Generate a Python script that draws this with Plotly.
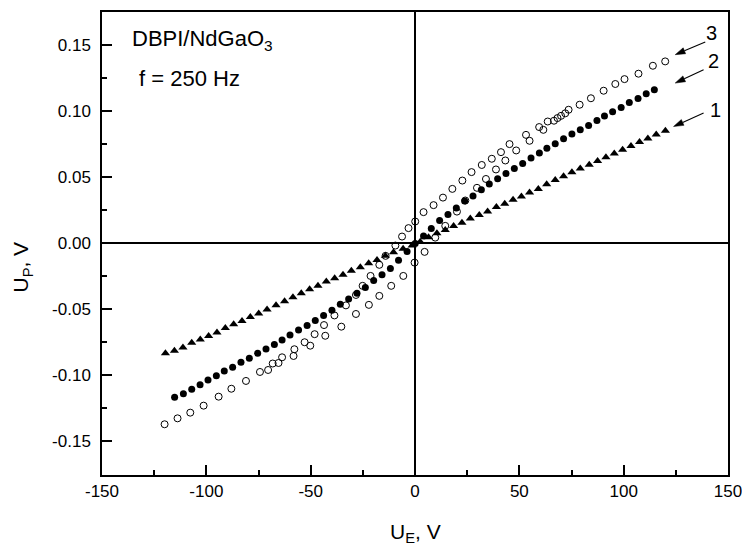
import math
import plotly.graph_objects as go

# ---- data ----
# Curve 1: filled triangles
ue_1 = [-119.6, -115.3, -111.2, -107.0, -102.9, -98.9, -94.9, -90.9, -86.9, -82.9,
        -78.9, -74.9, -70.9, -66.6, -62.5, -58.5, -54.5, -50.5, -46.5, -42.5,
        -38.5, -34.5, -30.5, -26.2, -22.2, -18.2, -14.2, -10.3, -5.7, -1.4,
        2.5, 6.5, 10.5, 14.5, 18.5, 22.5, 26.5, 30.8, 34.8, 39.0,
        43.0, 47.0, 51.0, 54.9, 59.1, 63.1, 67.2, 71.2, 75.2, 79.2,
        83.5, 87.5, 91.5, 95.5, 99.5, 103.5, 107.6, 111.6, 115.6, 120.0]
up_1 = [-0.0833, -0.0814, -0.0789, -0.0754, -0.0729, -0.0702, -0.0677, -0.0642, -0.0614, -0.0589,
        -0.0559, -0.0533, -0.0502, -0.0470, -0.0440, -0.0409, -0.0379, -0.0349, -0.0323, -0.0291,
        -0.0265, -0.0240, -0.0209, -0.0182, -0.0152, -0.0127, -0.0096, -0.0068, -0.0043, -0.0017,
        0.0010, 0.0045, 0.0076, 0.0100, 0.0130, 0.0155, 0.0186, 0.0214, 0.0239, 0.0273,
        0.0298, 0.0328, 0.0353, 0.0383, 0.0411, 0.0446, 0.0479, 0.0507, 0.0536, 0.0565,
        0.0593, 0.0622, 0.0650, 0.0679, 0.0708, 0.0736, 0.0765, 0.0793, 0.0822, 0.0851]

# Curve 2: filled circles
ue_2 = [-115.2, -111.0, -107.0, -103.0, -99.2, -95.2, -91.4, -87.4, -83.4, -79.4,
        -75.4, -71.4, -67.4, -63.7, -59.9, -55.8, -51.7, -47.8, -43.8, -39.8,
        -35.8, -31.8, -27.8, -23.8, -19.8, -15.8, -11.8, -7.9, -3.8, 0.1,
        4.1, 7.8, 11.8, 15.8, 19.8, 23.8, 27.8, 31.8, 35.6, 39.6,
        43.6, 47.6, 51.6, 55.6, 59.6, 63.2, 67.2, 71.2, 75.2, 79.2,
        83.2, 87.2, 90.8, 94.7, 98.8, 102.7, 106.9, 110.8, 114.7]
up_2 = [-0.1167, -0.1139, -0.1106, -0.1071, -0.1036, -0.1003, -0.0967, -0.0939, -0.0902, -0.0871,
        -0.0833, -0.0801, -0.0768, -0.0733, -0.0695, -0.0657, -0.0624, -0.0586, -0.0548, -0.0508,
        -0.0462, -0.0422, -0.0380, -0.0336, -0.0283, -0.0240, -0.0192, -0.0130, -0.0064, -0.0002,
        0.0055, 0.0111, 0.0171, 0.0217, 0.0267, 0.0319, 0.0358, 0.0404, 0.0447, 0.0487,
        0.0527, 0.0565, 0.0603, 0.0644, 0.0682, 0.0718, 0.0752, 0.0790, 0.0826, 0.0858,
        0.0891, 0.0929, 0.0962, 0.0995, 0.1027, 0.1065, 0.1095, 0.1131, 0.1162]

# Curve 3: open circles (hysteresis loop) - upper branch
ue_3_upper = [114.0, 100.4, 90.4, 78.9, 70.0, 63.6, 59.5, 53.2, 45.3, 41.2,
              36.8, 32.0, 27.1, 22.7, 17.9, 13.4, 8.9, 4.1, 0.1, -3.1,
              -6.2, -9.4, -14.1, -17.1, -21.3, -25.1, -28.3, -33.1, -38.6, -43.6,
              -48.1, -52.9, -57.8, -63.7, -68.2, -74.3, -88.0, -101.3, -113.8]
up_3_upper = [0.1343, 0.1242, 0.1154, 0.1048, 0.0964, 0.0921, 0.0879, 0.0820, 0.0750, 0.0689,
              0.0639, 0.0592, 0.0538, 0.0474, 0.0411, 0.0345, 0.0288, 0.0235, 0.0164, 0.0114,
              0.0050, -0.0018, -0.0096, -0.0164, -0.0248, -0.0323, -0.0392, -0.0471, -0.0547, -0.0620,
              -0.0689, -0.0750, -0.0803, -0.0864, -0.0911, -0.0975, -0.1102, -0.1230, -0.1326]
# Curve 3: open circles - lower branch
ue_3_lower = [119.9, 107.1, 96.0, 84.3, 73.6, 72.0, 68.3, 66.6, 61.5, 54.9,
              48.5, 43.3, 38.8, 34.0, 29.7, 24.1, 20.1, 14.5, 9.7, 4.6,
              -0.2, -5.6, -11.4, -17.1, -22.1, -28.3, -35.3, -43.0, -50.2, -58.2,
              -65.4, -70.4, -81.0, -94.1, -107.7, -120.0]
up_3_lower = [0.1376, 0.1283, 0.1205, 0.1097, 0.1010, 0.0983, 0.0947, 0.0927, 0.0858, 0.0775,
              0.0702, 0.0626, 0.0558, 0.0486, 0.0419, 0.0323, 0.0239, 0.0131, 0.0042, -0.0066,
              -0.0147, -0.0248, -0.0323, -0.0399, -0.0467, -0.0536, -0.0632, -0.0701, -0.0776, -0.0854,
              -0.0907, -0.0960, -0.1043, -0.1162, -0.1283, -0.1371]

# curve labels: text, label position, arrow tip, arrow start (data units)
curve_labels = ["3", "2", "1"]
label_x = [142.3, 143.1, 143.9]
label_y = [0.1591, 0.1376, 0.1010]
tip_x = [124.7, 124.7, 123.9]
tip_y = [0.1427, 0.1212, 0.0883]
start_x = [139.1, 138.3, 138.3]
start_y = [0.1523, 0.1313, 0.0985]

x_ticks = [-150, -100, -50, 0, 50, 100, 150]
x_ticktext = ["-150", "-100", "-50", "0", "50", "100", "150"]
y_ticks = [-0.15, -0.10, -0.05, 0.0, 0.05, 0.10, 0.15]
y_ticktext = ["-0.15", "-0.10", "-0.05", "0.00", "0.05", "0.10", "0.15"]
x_minor = [-125, -75, -25, 25, 75, 125]
y_minor = [-0.175, -0.125, -0.075, -0.025, 0.025, 0.075, 0.125, 0.175]

FONT = "Arial, Liberation Sans, Helvetica, sans-serif"
W, H = 742, 543
M = dict(l=102, r=14, t=12, b=68)
XR = [-150, 150]
YR = [-0.1755, 0.175]

fig = go.Figure()
fig.add_trace(go.Scatter(x=ue_3_upper + ue_3_lower, y=up_3_upper + up_3_lower, mode="markers",
                         marker=dict(symbol="circle-open", size=7, color="black",
                                     line=dict(width=1, color="black")),
                         showlegend=False))
fig.add_trace(go.Scatter(x=ue_2, y=up_2, mode="markers",
                         marker=dict(symbol="circle", size=7, color="black"),
                         showlegend=False))
fig.add_trace(go.Scatter(x=ue_1, y=up_1, mode="markers",
                         marker=dict(symbol="triangle-up", size=8, color="black"),
                         showlegend=False))

axis_common = dict(showline=True, linecolor="black", linewidth=1.5, mirror=True,
                   ticks="inside", ticklen=10, tickwidth=1.5, tickcolor="black",
                   showgrid=False, zeroline=True, zerolinecolor="black", zerolinewidth=1.5,
                   tickfont=dict(family=FONT, size=17, color="black"), tickmode="array",
                   ticklabeloverflow="allow", automargin=False)

fig.update_xaxes(range=XR, tickvals=x_ticks, ticktext=x_ticktext,
                 minor=dict(tickmode="array", tickvals=x_minor, ticks="inside", ticklen=5,
                            tickwidth=1.5, tickcolor="black"),
                 **axis_common)
fig.update_yaxes(range=YR, tickvals=y_ticks, ticktext=y_ticktext,
                 minor=dict(tickmode="array", tickvals=y_minor, ticks="inside", ticklen=5,
                            tickwidth=1.5, tickcolor="black"),
                 ticklabelstandoff=6,
                 **axis_common)

# pixel scale of the plot area, used only to shape the arrow heads
sx_px = (W - M["l"] - M["r"]) / (XR[1] - XR[0])
sy_px = (H - M["t"] - M["b"]) / (YR[1] - YR[0])

annots = []
shapes = []
HEAD_LEN, HEAD_HALF = 10.0, 3.2
for txt, lx, ly, tx, ty, s_x, s_y in zip(curve_labels, label_x, label_y,
                                         tip_x, tip_y, start_x, start_y):
    annots.append(dict(x=lx, y=ly, xref="x", yref="y", text=txt, showarrow=False,
                       font=dict(family=FONT, size=20, color="black"),
                       xanchor="center", yanchor="middle"))
    # direction in pixel space (y up)
    dx = (tx - s_x) * sx_px
    dy = (ty - s_y) * sy_px
    L = math.hypot(dx, dy)
    ux, uy = dx / L, dy / L
    px_, py_ = -uy, ux
    bx = tx - ux * HEAD_LEN / sx_px
    by = ty - uy * HEAD_LEN / sy_px
    shapes.append(dict(type="line", xref="x", yref="y", x0=s_x, y0=s_y, x1=bx, y1=by,
                       line=dict(color="black", width=1.1)))
    p1 = (bx + px_ * HEAD_HALF / sx_px, by + py_ * HEAD_HALF / sy_px)
    p2 = (bx - px_ * HEAD_HALF / sx_px, by - py_ * HEAD_HALF / sy_px)
    shapes.append(dict(type="path", xref="x", yref="y",
                       path=f"M {tx},{ty} L {p1[0]},{p1[1]} L {p2[0]},{p2[1]} Z",
                       fillcolor="black", line=dict(color="black", width=0.5)))

annots.append(dict(x=-136.5, y=0.1535, xref="x", yref="y", text="DBPI/NdGaO<sub>3</sub>",
                   showarrow=False, xanchor="left", yanchor="middle",
                   font=dict(family=FONT, size=22, color="black")))
annots.append(dict(x=-133, y=0.1245, xref="x", yref="y", text="f = 250 Hz",
                   showarrow=False, xanchor="left", yanchor="middle",
                   font=dict(family=FONT, size=22, color="black")))
# axis titles
annots.append(dict(x=-0.128, y=0.45, xref="paper", yref="paper", text="U<sub>P</sub>, V",
                   showarrow=False, textangle=-90, xanchor="center", yanchor="middle",
                   font=dict(family=FONT, size=21, color="black")))
annots.append(dict(x=0.5, y=-0.093, xref="paper", yref="paper", text="U<sub>E</sub>, V",
                   showarrow=False, xanchor="center", yanchor="top",
                   font=dict(family=FONT, size=21, color="black")))

fig.update_layout(width=W, height=H, margin=M,
                  paper_bgcolor="white", plot_bgcolor="white", annotations=annots,
                  shapes=shapes, font=dict(family=FONT, color="black"))

fig.write_html("out.html")
